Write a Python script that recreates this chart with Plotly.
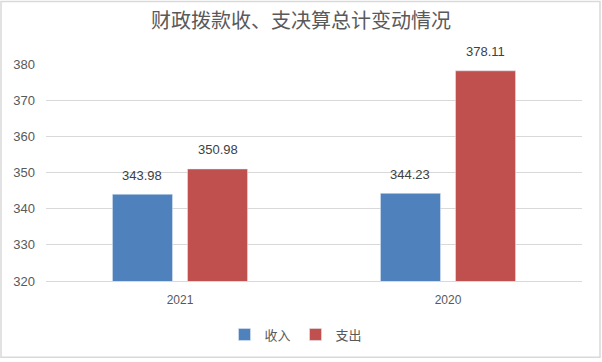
import plotly.graph_objects as go

categories = ["2021", "2020"]
income = [343.98, 344.23]
expense = [350.98, 378.11]
series_names = ["收入", "支出"]

W, H = 602, 362
ml, mr, mt, mb = 46, 20, 64, 79
pw, ph = W - ml - mr, H - mt - mb

def px_x(p):
    return (p - ml) / pw

def px_y(p):
    return (H - mb - p) / ph

bargap, bargroupgap = 0.44, 0.2
slot = (1 - bargap) / 2
offset_px = slot / 2 * (pw / len(categories))

fig = go.Figure()
fig.add_trace(go.Bar(x=categories, y=income, name=series_names[0], marker_color="#4F81BD"))
fig.add_trace(go.Bar(x=categories, y=expense, name=series_names[1], marker_color="#C0504D"))

annotations = []
for vals, sign in ((income, -1), (expense, 1)):
    for i, v in enumerate(vals):
        annotations.append(dict(
            x=i, y=v, xref="x", yref="y", text=f"{v:.2f}", showarrow=False,
            xshift=sign * offset_px, yshift=19, yanchor="middle",
            font=dict(size=13, color="#404040", family="Liberation Sans, sans-serif")))

fig.update_layout(
    width=W, height=H,
    margin=dict(l=ml, r=mr, t=mt, b=mb),
    paper_bgcolor="white", plot_bgcolor="white",
    font=dict(family="Noto Sans CJK SC, Noto Sans, sans-serif", color="#595959"),
    title=dict(text="财政拨款收、支决算总计变动情况", x=0.5, xanchor="center",
               y=1 - 21 / H, yanchor="middle",
               font=dict(size=20, color="#595959")),
    barmode="group", bargap=bargap, bargroupgap=bargroupgap,
    showlegend=True,
    legend=dict(orientation="h", x=px_x(296), xanchor="center", y=px_y(337), yanchor="middle",
                font=dict(size=13, color="#595959"), itemwidth=30, tracegroupgap=0),
    xaxis=dict(type="category", range=[-0.5, len(categories) - 0.5],
               showgrid=False, showline=True, linecolor="#D9D9D9", ticks="",
               ticklabelstandoff=8,
               tickfont=dict(size=12, color="#595959", family="Liberation Sans, sans-serif")),
    yaxis=dict(range=[320, 380], dtick=10, showgrid=True, gridcolor="#D9D9D9",
               zeroline=False, showline=False, ticks="", ticklabelstandoff=10,
               tickfont=dict(size=13, color="#595959", family="Liberation Sans, sans-serif")),
    annotations=annotations,
    shapes=[dict(type="rect", xref="paper", yref="paper",
                 x0=px_x(1), x1=px_x(600), y0=px_y(360), y1=px_y(1),
                 line=dict(color="#D9D9D9", width=1.5), layer="below")],
)

fig.write_html("out.html", config={"displayModeBar": False},
               post_script="document.body.style.margin='0';")
